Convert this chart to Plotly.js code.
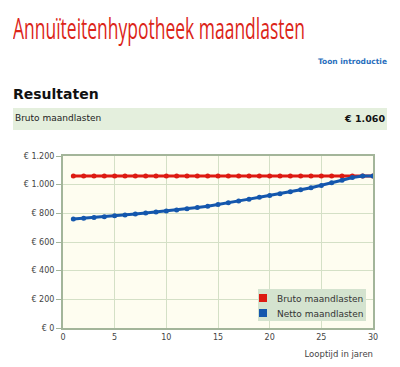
<!DOCTYPE html>
<html>
<head>
<meta charset="utf-8">
<script src="https://cdn.plot.ly/plotly-3.0.1.min.js"></script>
<style>
  html, body { margin: 0; padding: 0; background: #fff; }
  #page { position: relative; width: 400px; height: 367px; overflow: hidden; font-family: "DejaVu Sans", Verdana, sans-serif; }
  #title { position: absolute; left: 13px; top: 13px; font-family: "Open Sans", sans-serif; font-size: 29px; color: #dc2519; white-space: nowrap; transform-origin: 0 0; line-height: 1; }
  #intro { position: absolute; right: 13px; top: 57px; font-size: 7.5px; font-weight: bold; color: #2a6fbd; }
  #res { position: absolute; left: 13px; top: 86px; font-size: 14px; font-weight: bold; color: #111; }
  #band { position: absolute; left: 13px; top: 108px; width: 374px; height: 22px; background: #e4efdd; }
  #band .l { position: absolute; left: 2px; top: 5px; font-size: 9px; color: #222; }
  #band .r { position: absolute; right: 2px; top: 4.5px; font-size: 9.5px; font-weight: bold; color: #111; }
  #chart { position: absolute; left: 0; top: 0; width: 400px; height: 367px; }
</style>
</head>
<body>
<div id="page">
  <div id="chart"></div>
  <div id="title">Annuïteitenhypotheek maandlasten</div>
  <div id="intro">Toon introductie</div>
  <div id="res">Resultaten</div>
  <div id="band"><span class="l">Bruto maandlasten</span><span class="r">€ 1.060</span></div>
</div>
<script>
// Data
var years = [1,2,3,4,5,6,7,8,9,10,11,12,13,14,15,16,17,18,19,20,21,22,23,24,25,26,27,28,29,30];
var bruto = [1060,1060,1060,1060,1060,1060,1060,1060,1060,1060,1060,1060,1060,1060,1060,1060,1060,1060,1060,1060,1060,1060,1060,1060,1060,1060,1060,1060,1060,1060];
var netto = [760,765,771,777,783,789,795,802,809,816,824,832,841,850,861,873,886,899,912,924,937,950,964,979,995,1013,1031,1050,1060,1060];
var seriesNames = ["Bruto maandlasten", "Netto maandlasten"];
var yTickVals = [0,200,400,600,800,1000,1200];
var yTickText = ["€ 0","€ 200","€ 400","€ 600","€ 800","€ 1.000","€ 1.200"];
var xTickVals = [0,5,10,15,20,25,30];
var xTitle = "Looptijd in jaren";

// fit title width
var t = document.getElementById('title');
var w = t.getBoundingClientRect().width;
t.style.transform = 'scaleX(' + (292 / w) + ')';

var red = '#dd1a12', blue = '#1457ad';
var traces = [
  {x: years, y: bruto, mode: 'lines+markers', line: {color: red, width: 3}, marker: {color: red, size: 5}, showlegend: false, hoverinfo: 'skip'},
  {x: years, y: netto, mode: 'lines+markers', line: {color: blue, width: 3}, marker: {color: blue, size: 5}, showlegend: false, hoverinfo: 'skip'},
  {x: [null], y: [null], mode: 'markers', name: seriesNames[0], marker: {color: red, symbol: 'square', size: 8}},
  {x: [null], y: [null], mode: 'markers', name: seriesNames[1], marker: {color: blue, symbol: 'square', size: 8}}
];
var axisCol = '#a3b59a';
var layout = {
  width: 400, height: 367,
  margin: {l: 63, r: 27, t: 156, b: 39},
  paper_bgcolor: 'rgba(0,0,0,0)',
  plot_bgcolor: '#fefdf0',
  font: {family: '"DejaVu Sans", Verdana, sans-serif', size: 8, color: '#444'},
  xaxis: {
    range: [0, 30], tickvals: xTickVals, ticktext: xTickVals.map(String),
    showgrid: true, gridcolor: '#d4e0c6', gridwidth: 1,
    showline: true, linecolor: axisCol, linewidth: 2, mirror: true,
    ticks: '', zeroline: false, tickfont: {size: 8, color: '#444'},
    title: {text: xTitle, font: {size: 8.5, color: '#444'}, standoff: 4},
    fixedrange: true
  },
  yaxis: {
    range: [0, 1200], tickvals: yTickVals, ticktext: yTickText,
    showgrid: true, gridcolor: '#d4e0c6', gridwidth: 1,
    showline: true, linecolor: axisCol, linewidth: 2, mirror: true,
    ticks: 'outside', ticklen: 5, tickcolor: axisCol, tickwidth: 1,
    zeroline: false, tickfont: {size: 8, color: '#444'}, fixedrange: true
  },
  legend: {
    x: 0.977, y: 0.04, xanchor: 'right', yanchor: 'bottom',
    bgcolor: '#d4e3cf', borderwidth: 0,
    font: {size: 9, color: '#333'}, itemwidth: 30, tracegroupgap: 0
  },
  showlegend: true
};
Plotly.newPlot('chart', traces, layout, {staticPlot: true, displayModeBar: false}).then(function(){
  // right-align x title
  var xt = document.querySelector('#chart .xtitle');
  if (xt) {
    xt.setAttribute('text-anchor', 'end');
    xt.setAttribute('x', 373);
    xt.setAttribute('y', 357);
  }
  // compact legend to match reference
  var leg = document.querySelector('#chart .legend');
  if (leg) {
    var items = leg.querySelectorAll('.traces');
    items.forEach(function(it, i){
      it.setAttribute('transform', 'translate(-15,' + (9 + i * 15) + ')');
      var tx = it.querySelector('text.legendtext');
      if (tx) tx.setAttribute('x', 34);
    });
    var bg = leg.querySelector('.bg');
    if (bg) {
      bg.setAttribute('width', 108);
      bg.setAttribute('height', 32);
    }
    leg.setAttribute('transform', 'translate(258,289)');
  }
});
</script>
</body>
</html>
